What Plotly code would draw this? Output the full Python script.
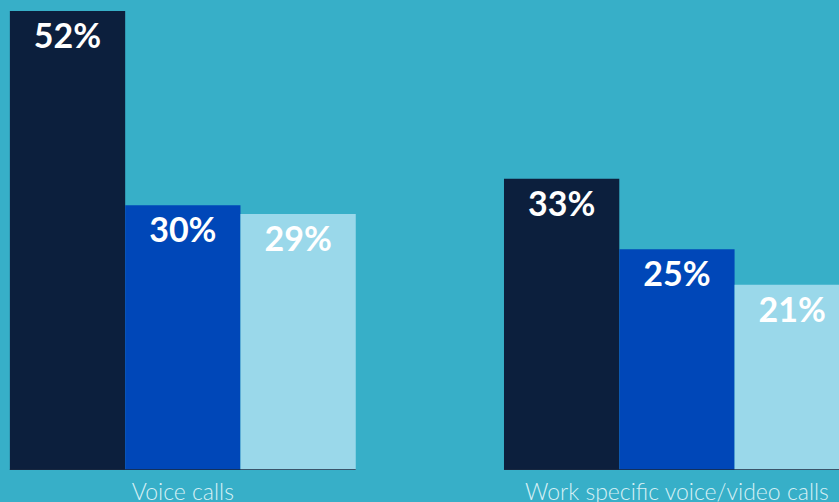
import plotly.graph_objects as go

# Share of respondents by call type and segment
categories = ["Voice calls", "Work specific voice/video calls"]
series_names = ["Segment A", "Segment B", "Segment C"]
series_values = [
    [52, 33],
    [30, 25],
    [29, 21],
]
colors = ["#0C1F3D", "#0047B8", "#9AD8EA"]

BG = "#37AFC8"
BARGAP = 0.3

fig = go.Figure()
for name, vals, col in zip(series_names, series_values, colors):
    fig.add_trace(go.Bar(
        x=categories,
        y=vals,
        name=name,
        marker=dict(color=col, line=dict(width=0)),
        text=[f"{v}%" for v in vals],
        textposition="inside",
        insidetextanchor="end",
        textangle=0,
        textfont=dict(family="Lato", size=34, color="white", weight="bold"),
        cliponaxis=False,
    ))

# thin baseline under each group of bars
half = (1 - BARGAP) / 2
for i in range(len(categories)):
    fig.add_shape(type="line", xref="x", yref="y",
                  x0=i - half, x1=i + half, y0=0, y1=0,
                  line=dict(color="#1a2a40", width=1.5))

fig.update_layout(
    width=839, height=502,
    margin=dict(l=0, r=0, t=0, b=32),
    paper_bgcolor=BG, plot_bgcolor=BG,
    barmode="group", bargap=BARGAP, bargroupgap=0,
    showlegend=False,
    uniformtext=dict(mode=False),
    xaxis=dict(
        type="category",
        range=[-0.370, 1.328],
        automargin=False,
        showgrid=False, showline=False, zeroline=False, ticks="",
        ticklabelstandoff=6,
        tickfont=dict(family="Lato", size=23, color="#D6EFF5", weight=300),
    ),
    yaxis=dict(
        range=[0, 53.25],
        visible=False,
        showgrid=False, zeroline=False,
    ),
)

fig.write_html("out.html")
